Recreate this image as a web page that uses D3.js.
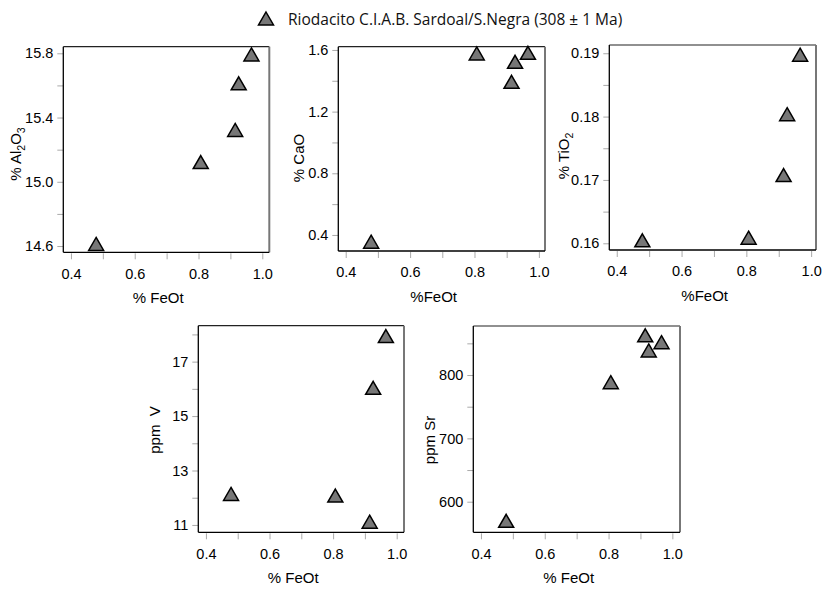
<!DOCTYPE html>
<html><head><meta charset="utf-8">
<script src="https://cdn.jsdelivr.net/npm/d3@7"></script>
<style>
html,body{margin:0;padding:0;background:#fff;}
svg{display:block;}
</style>
</head><body>
<svg id="chart" width="822" height="590"></svg>
<script>
// ---- data ----
const legendLabel = "Riodacito C.I.A.B. Sardoal/S.Negra (308 ± 1 Ma)";
const feot  = [0.479, 0.807, 0.915, 0.926, 0.966];
const al2o3 = [14.61, 15.12, 15.32, 15.61, 15.79];
const cao   = [0.353, 1.574, 1.39, 1.52, 1.578];
const tio2  = [0.1604, 0.1608, 0.1707, 0.1803, 0.1897];
const vppm  = [12.12, 12.06, 11.1, 16.02, 17.92];
const srppm = [569, 788, 862, 838, 851];

const xTickLabels = [0.4, 0.6, 0.8, 1.0];
const xMinorTicks = [0.4, 0.5, 0.6, 0.7, 0.8, 0.9, 1.0];
const al2o3Labels = [14.6, 15.0, 15.4, 15.8];
const al2o3Ticks  = [14.6, 14.8, 15.0, 15.2, 15.4, 15.6, 15.8];
const caoLabels   = [0.4, 0.8, 1.2, 1.6];
const caoTicks    = [0.4, 0.6, 0.8, 1.0, 1.2, 1.4, 1.6];
const tio2Labels  = [0.16, 0.17, 0.18, 0.19];
const tio2Ticks   = [0.16, 0.165, 0.17, 0.175, 0.18, 0.185, 0.19];
const vLabels     = [11, 13, 15, 17];
const vTicks      = [11, 12, 13, 14, 15, 16, 17, 18];
const srLabels    = [600, 700, 800];
const srTicks     = [600, 650, 700, 750, 800, 850];

// ---- layout ----
const panels = [
  {y: al2o3, yl: al2o3Labels, yt: al2o3Ticks, fmt: d3.format(".1f"),
   box: [63.3, 46.7, 269.3, 252.3], xd: [0.376, 1.022], yd: [14.561, 15.841],
   ylab: [{t:"% Al"},{t:"2",sub:true},{t:"O"},{t:"3",sub:true}], ylx: 21, yly: 154,
   xlab: "% FeOt"},
  {y: cao, yl: caoLabels, yt: caoTicks, fmt: d3.format(".1f"),
   box: [338.3, 46.7, 545, 251], xd: [0.377, 1.019], yd: [0.296, 1.621],
   ylab: [{t:"% CaO"}], ylx: 304, yly: 158, xlab: "%FeOt"},
  {y: tio2, yl: tio2Labels, yt: tio2Ticks, fmt: d3.format(".2f"),
   box: [609.3, 45, 816, 250], xd: [0.377, 1.015], yd: [0.15894, 0.1913],
   ylab: [{t:"% TiO"},{t:"2",sub:true}], ylx: 569, yly: 156, xlab: "%FeOt"},
  {y: vppm, yl: vLabels, yt: vTicks, fmt: d3.format("d"),
   box: [198.3, 325.7, 404, 532.3], xd: [0.376, 1.023], yd: [10.73, 18.32],
   ylab: [{t:"ppm  V"}], ylx: 160, yly: 430, xlab: "% FeOt"},
  {y: srppm, yl: srLabels, yt: srTicks, fmt: d3.format("d"),
   box: [473.3, 326, 680, 532.3], xd: [0.376, 1.024], yd: [551.7, 877.4],
   ylab: [{t:"ppm Sr"}], ylx: 435, yly: 440, xlab: "% FeOt"}
];

const svg = d3.select("#chart");
const tickFont = "'Liberation Sans', Arial, sans-serif";
const triPath = "M0,-7 L7.5,6 L-7.5,6 Z";

// legend
const lg = svg.append("g");
lg.append("path").attr("d", triPath).attr("transform", "translate(266,19)")
  .attr("fill", "#777").attr("stroke", "#000").attr("stroke-width", 1.5);
lg.append("text").attr("x", 288).attr("y", 24.5)
  .attr("font-family", "'Open Sans', 'Noto Sans', sans-serif").attr("font-size", 15.5)
  .attr("fill", "#111").text(legendLabel);

panels.forEach(p => {
  const [x0, y0, x1, y1] = p.box;
  const x = d3.scaleLinear().domain(p.xd).range([x0, x1]);
  const y = d3.scaleLinear().domain(p.yd).range([y1, y0]);
  const g = svg.append("g");

  // y axis ticks (gray) and labels
  const ya = d3.axisLeft(y).tickValues(p.yt).tickSize(6).tickFormat(d => p.yl.some(v => Math.abs(v - d) < 1e-9) ? p.fmt(d) : "");
  const yg = g.append("g").attr("transform", `translate(${x0},0)`).call(ya);
  yg.select(".domain").remove();
  yg.selectAll(".tick line").attr("stroke", "#aaa").attr("stroke-width", 1);
  yg.selectAll(".tick text").attr("x", -10).attr("font-family", tickFont).attr("font-size", 14.5).attr("fill", "#000");

  // x axis ticks (gray) and labels
  const xa = d3.axisBottom(x).tickValues(xMinorTicks).tickSize(6).tickFormat(d => xTickLabels.some(v => Math.abs(v - d) < 1e-9) ? d3.format(".1f")(d) : "");
  const xg = g.append("g").attr("transform", `translate(0,${y1 + 1})`).call(xa);
  xg.select(".domain").remove();
  xg.selectAll(".tick line").attr("stroke", "#aaa").attr("stroke-width", 1);
  xg.selectAll(".tick text").attr("y", 15).attr("font-family", tickFont).attr("font-size", 14.5).attr("fill", "#000");

  // frame
  g.append("line").attr("x1", x0).attr("x2", x1).attr("y1", y0).attr("y2", y0).attr("stroke", "#222").attr("stroke-width", 1.2);
  g.append("line").attr("x1", x1).attr("x2", x1).attr("y1", y0).attr("y2", y1).attr("stroke", "#777").attr("stroke-width", 2);
  g.append("line").attr("x1", x0).attr("x2", x0).attr("y1", y0).attr("y2", y1).attr("stroke", "#000").attr("stroke-width", 1.3);
  g.append("line").attr("x1", x0).attr("x2", x1).attr("y1", y1).attr("y2", y1).attr("stroke", "#000").attr("stroke-width", 1.3);

  // points
  g.selectAll("path.pt").data(feot.map((f, i) => [f, p.y[i]])).join("path")
    .attr("class", "pt").attr("d", triPath)
    .attr("transform", d => `translate(${x(d[0])},${y(d[1])})`)
    .attr("fill", "#777").attr("stroke", "#000").attr("stroke-width", 1.5);

  // x label
  g.append("text").attr("x", (x0 + x1) / 2 - 8).attr("y", y1 + 51)
    .attr("text-anchor", "middle").attr("font-family", tickFont).attr("font-size", 15)
    .attr("fill", "#000").text(p.xlab);

  // y label
  const yt = g.append("text").attr("transform", `translate(${p.ylx},${p.yly}) rotate(-90)`)
    .attr("text-anchor", "middle").attr("font-family", tickFont).attr("font-size", 15).attr("fill", "#000")
    .attr("xml:space", "preserve");
  p.ylab.forEach(s => {
    const ts = yt.append("tspan").text(s.t);
    if (s.sub) ts.attr("font-size", 10.5).attr("dy", 4);
    else if (yt.selectAll("tspan").size() > 1) ts.attr("dy", -4);
  });
});
</script>
</body></html>
